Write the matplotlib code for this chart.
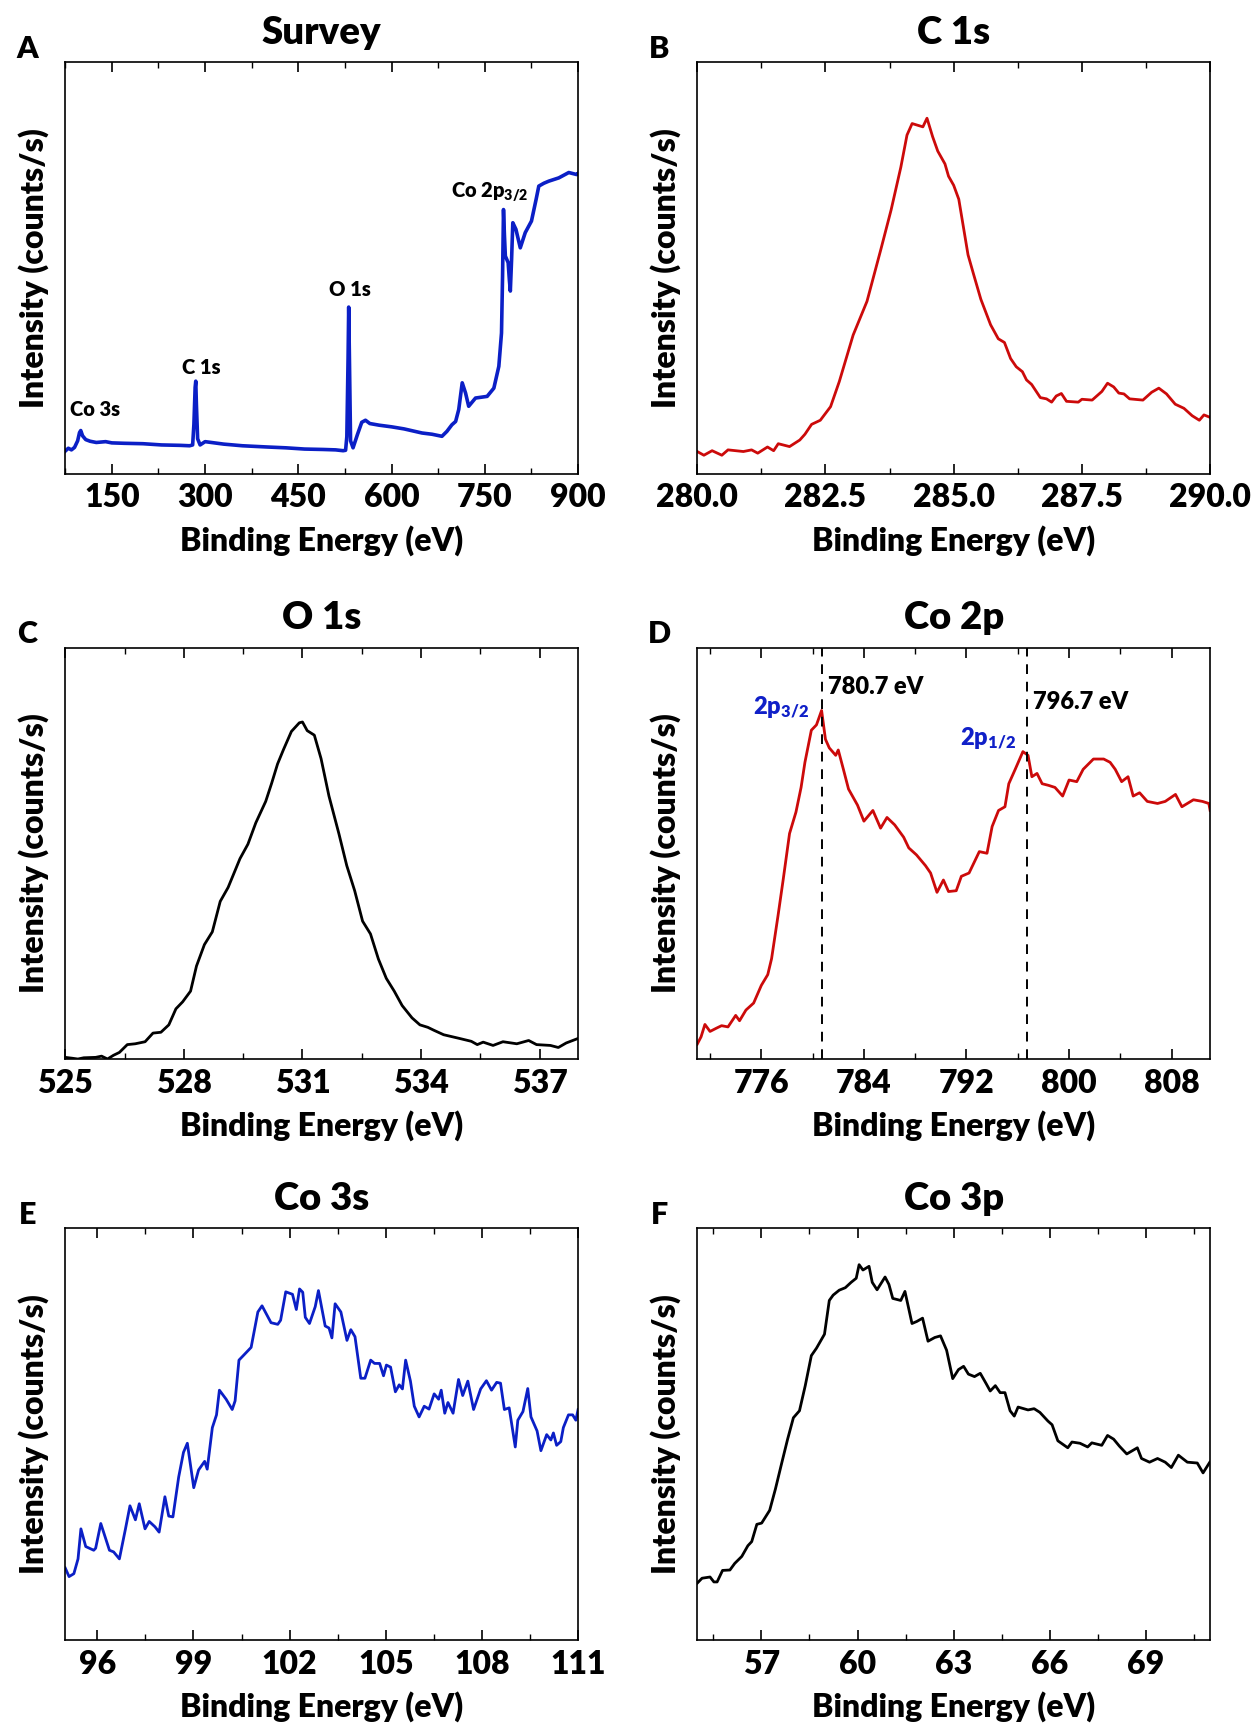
import matplotlib
matplotlib.use("Agg")
import matplotlib.pyplot as plt
from matplotlib.ticker import MultipleLocator, FormatStrFormatter

plt.rcParams['font.family'] = ['Lato', 'DejaVu Sans']
plt.rcParams['font.weight'] = 'heavy'
plt.rcParams['mathtext.default'] = 'regular'

BLUE = '#0b1fc6'
RED = '#cc0a0a'
W = 'heavy'

# Survey spectrum (intensity normalised to 0-100 of the axes height)
survey_x = [75, 80, 85, 90, 95, 98, 100, 103, 108, 115, 125, 140, 150, 170, 200, 230, 260, 275, 280, 282,
            284, 285, 286, 288, 292, 300, 310, 330, 360, 400, 430, 460, 490, 510, 522, 526, 528, 530,
            531, 532, 534, 538, 545, 552, 558, 565, 580, 600, 620, 649, 665, 681, 689, 697, 703, 708,
            713.6, 719, 724, 735, 753.7, 764.5, 772.5, 776.8, 778.5, 780, 781.5, 783, 787.5, 789.5, 791,
            793, 795, 800, 807, 815, 825, 832.5, 836.8, 845, 852.8, 869, 885, 898, 900]
survey_y = [5.5, 6.2, 5.8, 6.4, 8.0, 10.0, 10.5, 9.2, 8.3, 7.9, 7.6, 7.8, 7.5, 7.4, 7.3, 7.0, 6.9, 6.8, 7.0, 12.0,
            21.0, 22.5, 17.0, 8.5, 7.0, 7.8, 7.6, 7.2, 6.8, 6.5, 6.3, 6.0, 5.9, 5.8, 5.6, 5.7, 9.0, 28.0,
            40.5, 30.0, 8.0, 6.3, 9.5, 12.5, 13.0, 12.2, 11.8, 11.4, 10.9, 9.9, 9.6, 9.1, 10.3, 11.9, 12.7, 15.6,
            22.1, 19.6, 16.4, 18.4, 18.8, 20.8, 26.1, 34.2, 48.0, 64.2, 58.0, 52.9, 51.3, 47.0, 44.4,
            52.0, 61.0, 59.4, 54.9, 58.6, 61.4, 66.7, 69.9, 70.6, 71.1, 71.9, 73.2, 72.7, 73.0]

# C 1s
c1s_x = [280.0, 280.13, 280.29, 280.48, 280.6, 280.75, 280.9, 281.06, 281.18, 281.37, 281.49, 281.58, 281.8,
         282.0, 282.1, 282.23, 282.4, 282.6, 282.77, 283.04, 283.31, 283.58, 283.78, 283.97, 284.09, 284.19,
         284.4, 284.48, 284.59, 284.69, 284.83, 284.9, 285.0, 285.1, 285.28, 285.39, 285.53, 285.72, 285.87,
         285.99, 286.11, 286.22, 286.34, 286.42, 286.52, 286.69, 286.81, 286.91, 287.0, 287.1, 287.2, 287.43,
         287.5, 287.7, 287.89, 288.0, 288.12, 288.22, 288.32, 288.43, 288.69, 288.86, 289.0, 289.15, 289.32,
         289.49, 289.65, 289.79, 289.88, 290.0]
c1s_y = [5.4, 4.5, 5.6, 4.5, 5.8, 5.6, 5.4, 5.8, 5.0, 6.5, 5.6, 7.3, 6.6,
         8.2, 9.6, 12.0, 13.0, 16.3, 22.4, 33.7, 41.9, 54.5, 64.1, 74.5, 82.3, 85.1,
         84.3, 86.4, 81.9, 78.4, 75.3, 72.3, 70.1, 66.7, 53.2, 48.4, 42.4, 36.2, 32.8,
         31.9, 28.0, 26.0, 24.8, 22.8, 21.7, 18.5, 18.2, 17.4, 18.9, 19.5, 17.6, 17.4,
         18.1, 17.9, 20.0, 22.0, 21.1, 19.6, 19.4, 18.2, 17.9, 19.8, 20.8, 19.4, 16.9,
         15.9, 14.1, 13.0, 14.3, 13.7]

# O 1s
o1s_x = [525.0, 525.17, 525.32, 525.47, 525.77, 525.92, 526.07, 526.22, 526.37, 526.57, 526.77, 527.02, 527.22,
         527.42, 527.62, 527.8, 527.97, 528.17, 528.32, 528.52, 528.72, 528.92, 529.12, 529.42, 529.62, 529.82,
         530.07, 530.22, 530.37, 530.52, 530.72, 530.92, 531.0, 531.12, 531.3, 531.47, 531.67, 531.92, 532.12,
         532.32, 532.52, 532.72, 532.92, 533.12, 533.32, 533.52, 533.77, 533.97, 534.17, 534.32, 534.57, 534.97,
         535.27, 535.42, 535.57, 535.82, 536.07, 536.42, 536.72, 536.92, 537.27, 537.47, 537.67, 537.97]
o1s_y = [0.4, 0.2, 0.0, 0.3, 0.4, 0.7, 0.0, 0.9, 1.6, 3.5, 3.7, 4.2, 6.3,
         6.5, 8.3, 12.2, 13.9, 16.5, 22.6, 27.8, 30.9, 38.3, 41.7, 48.7, 52.2, 57.4,
         62.6, 67.0, 71.7, 75.2, 79.6, 81.7, 81.9, 79.8, 78.7, 73.0, 63.9, 54.8, 47.0,
         40.9, 33.5, 30.4, 24.3, 19.6, 16.5, 13.0, 10.0, 8.3, 7.7, 7.0, 5.9, 5.0,
         4.3, 3.5, 4.1, 3.3, 4.2, 3.7, 4.5, 3.5, 3.3, 2.8, 3.9, 5.0]

# Co 2p
co2p_x = [771.0, 771.3, 771.6, 772.0, 772.5, 772.9, 773.4, 774.0, 774.3, 774.8, 775.4, 776.0, 776.5, 776.8,
          777.3, 777.7, 778.2, 778.7, 779.1, 779.4, 779.9, 780.3, 780.7, 781.0, 781.3, 781.8, 782.0, 782.4,
          782.8, 783.5, 784.0, 784.7, 785.3, 785.8, 786.4, 787.1, 787.5, 788.1, 788.8, 789.2, 789.7, 790.2,
          790.6, 791.2, 791.6, 792.2, 792.6, 793.0, 793.6, 794.0, 794.5, 795.0, 795.3, 795.8, 796.4, 796.8,
          797.1, 797.5, 797.9, 798.4, 798.9, 799.5, 800.0, 800.6, 801.1, 801.9, 802.7, 803.2, 803.6, 804.1,
          804.6, 805.0, 805.5, 806.1, 806.9, 807.5, 808.3, 808.8, 809.7, 810.4, 810.9, 811.0]
co2p_y = [3.6, 5.4, 8.4, 6.7, 7.5, 8.1, 7.8, 10.6, 9.3, 11.9, 13.6, 17.9, 20.5, 24.4,
          34.8, 43.5, 54.8, 60.0, 66.0, 72.1, 79.9, 81.2, 84.7, 77.7, 75.6, 73.8, 75.1, 70.4,
          65.6, 61.7, 57.8, 60.4, 56.1, 58.7, 56.9, 53.9, 51.3, 49.6, 47.0, 45.2, 40.5, 43.5,
          40.7, 40.9, 44.4, 45.2, 47.8, 50.4, 50.0, 56.5, 60.4, 61.3, 66.9, 70.4, 74.7, 73.8,
          68.6, 69.4, 66.9, 66.5, 66.0, 63.9, 67.8, 67.4, 70.4, 72.9, 72.9, 72.1, 70.4, 67.4,
          68.6, 63.9, 64.7, 62.6, 62.1, 62.6, 64.3, 61.3, 63.0, 62.6, 62.1, 60.4]
co2p_peaks = [780.7, 796.7]

# Co 3s
co3s_x = [95.0, 95.12, 95.27, 95.4, 95.49, 95.64, 95.89, 95.95, 96.11, 96.38, 96.51, 96.69, 96.88, 97.02,
          97.19, 97.31, 97.49, 97.62, 97.8, 97.93, 98.11, 98.23, 98.36, 98.54, 98.69, 98.81, 99.01, 99.16,
          99.35, 99.43, 99.59, 99.72, 99.81, 100.02, 100.21, 100.3, 100.42, 100.58, 100.8, 101.01, 101.14,
          101.42, 101.63, 101.72, 101.88, 102.09, 102.21, 102.31, 102.41, 102.49, 102.62, 102.8, 102.9,
          103.11, 103.23, 103.32, 103.42, 103.6, 103.79, 103.91, 104.04, 104.22, 104.35, 104.53, 104.65,
          104.81, 104.93, 105.02, 105.15, 105.3, 105.42, 105.52, 105.62, 105.77, 105.89, 106.04, 106.2,
          106.35, 106.51, 106.65, 106.73, 106.84, 106.94, 107.1, 107.27, 107.4, 107.56, 107.74, 107.96,
          108.14, 108.3, 108.46, 108.58, 108.7, 108.85, 109.04, 109.12, 109.28, 109.43, 109.53, 109.72,
          109.84, 110.02, 110.15, 110.23, 110.33, 110.46, 110.54, 110.7, 110.83, 110.93, 111.0]
co3s_y = [17.5, 15.4, 16.1, 19.7, 27.0, 22.7, 21.8, 22.3, 28.3, 21.8, 21.4, 19.7, 27.0, 32.6,
          29.2, 33.1, 27.0, 28.8, 27.5, 26.2, 34.8, 30.1, 29.9, 39.6, 45.6, 47.8, 37.0, 41.3,
          43.4, 41.5, 51.6, 54.7, 60.7, 58.5, 56.0, 58.1, 68.0, 69.3, 71.1, 79.7, 81.2,
          77.1, 76.7, 77.7, 84.6, 84.0, 80.3, 85.3, 84.5, 78.4, 76.9, 81.0, 84.9,
          76.3, 75.8, 73.4, 81.7, 79.7, 72.8, 75.4, 73.7, 63.6, 63.6, 68.0, 67.2,
          67.2, 64.2, 66.8, 66.3, 60.3, 62.0, 61.0, 68.0, 62.9, 56.8, 54.2, 56.8,
          56.1, 59.8, 58.5, 60.7, 55.1, 57.7, 55.1, 63.3, 59.4, 62.9, 56.0, 61.0,
          63.0, 60.7, 62.6, 62.4, 56.0, 56.4, 46.9, 53.4, 55.5, 61.1, 54.2, 50.8,
          46.0, 49.9, 48.6, 50.3, 47.3, 48.2, 51.6, 54.7, 54.7, 53.4, 56.0]

# Co 3p
co3p_x = [55.0, 55.15, 55.4, 55.52, 55.62, 55.79, 56.02, 56.17, 56.39, 56.58, 56.7, 56.86, 57.01, 57.26,
          57.44, 57.63, 57.82, 58.0, 58.19, 58.37, 58.56, 58.72, 58.97, 59.12, 59.24, 59.43, 59.62, 59.8,
          59.96, 60.05, 60.17, 60.36, 60.46, 60.61, 60.86, 60.98, 61.1, 61.35, 61.48, 61.7, 61.85, 62.03,
          62.2, 62.41, 62.59, 62.78, 62.97, 63.15, 63.31, 63.46, 63.65, 63.83, 64.02, 64.14, 64.3, 64.45,
          64.6, 64.76, 64.89, 65.01, 65.32, 65.51, 65.69, 65.94, 66.07, 66.25, 66.56, 66.69, 66.94, 67.18,
          67.31, 67.62, 67.8, 67.99, 68.17, 68.4, 68.73, 68.86, 69.11, 69.36, 69.6, 69.79, 70.01, 70.29,
          70.6, 70.78, 70.99]
co3p_y = [13.8, 15.0, 15.3, 14.1, 14.1, 16.9, 17.0, 18.6, 20.3, 22.9, 23.9, 28.1, 28.4, 31.5,
          36.7, 42.8, 48.8, 54.0, 55.7, 61.8, 69.1, 70.9, 74.3, 82.5, 83.8, 85.0, 85.6, 86.9,
          87.9, 91.2, 89.9, 90.8, 86.9, 85.1, 88.2, 86.4, 83.0, 82.5, 84.7, 76.9, 77.4, 78.2,
          72.6, 73.5, 73.9, 70.4, 63.5, 65.7, 66.5, 64.6, 64.0, 64.8, 62.2, 60.5, 61.8, 60.1,
          60.1, 55.7, 54.4, 56.6, 55.9, 56.2, 55.3, 53.2, 52.3, 48.4, 46.7, 48.1, 47.8, 46.9,
          47.9, 47.3, 49.7, 48.8, 47.1, 45.2, 46.7, 44.1, 43.2, 44.1, 43.2, 41.9, 44.9, 43.2,
          43.0, 40.6, 43.2]

fig = plt.figure(figsize=(12.54, 17.29), dpi=100)

col_left = [0.052, 0.556]
row_bottom = [0.726, 0.3875, 0.0515]
w, h = 0.409, 0.238


def make_axes(col, row, title, letter, xlim, major, minor, fmt=None):
    ax = fig.add_axes([col_left[col], row_bottom[row], w, h])
    ax.set_xlim(xlim)
    ax.set_ylim(0, 100)
    ax.xaxis.set_major_locator(MultipleLocator(major))
    ax.xaxis.set_minor_locator(MultipleLocator(minor))
    if fmt:
        ax.xaxis.set_major_formatter(FormatStrFormatter(fmt))
    ax.set_yticks([])
    ax.tick_params(axis='x', which='both', direction='in', top=True, labelsize=23, pad=7)
    ax.tick_params(axis='x', which='major', length=7, width=1.2)
    ax.tick_params(axis='x', which='minor', length=4, width=1.0)
    for lab in ax.get_xticklabels():
        lab.set_fontweight(W)
    for s in ax.spines.values():
        s.set_linewidth(1.2)
    ax.set_xlabel('Binding Energy (eV)', fontsize=23, fontweight=W, labelpad=9)
    ax.set_ylabel('Intensity (counts/s)', fontsize=23, fontweight=W, labelpad=12)
    ax.set_title(title, fontsize=27.5, fontweight=W, pad=13)
    ax.text(-0.074, 0.998, letter, transform=ax.transAxes, fontsize=22, fontweight=W,
            ha='center', va='bottom')
    return ax


# A: survey
ax = make_axes(0, 0, 'Survey', 'A', (75, 900), 150, 75)
ax.plot(survey_x, survey_y, color=BLUE, lw=2.6)
ax.text(123, 15.5, 'Co 3s', fontsize=14.5, fontweight=W, ha='center', va='center')
ax.text(294, 25.8, 'C 1s', fontsize=14.5, fontweight=W, ha='center', va='center')
ax.text(533, 44.8, 'O 1s', fontsize=14.5, fontweight=W, ha='center', va='center')
ax.text(758, 68.4, 'Co 2p$_{3/2}$', fontsize=14.5, fontweight=W, ha='center', va='center')

# B: C 1s
ax = make_axes(1, 0, 'C 1s', 'B', (280, 290), 2.5, 1.25, '%.1f')
ax.plot(c1s_x, c1s_y, color=RED, lw=2.0)

# C: O 1s
ax = make_axes(0, 1, 'O 1s', 'C', (525, 537.97), 3, 1.5)
ax.plot(o1s_x, o1s_y, color='black', lw=2.0)

# D: Co 2p
ax = make_axes(1, 1, 'Co 2p', 'D', (771, 811), 8, 4)
ax.plot(co2p_x, co2p_y, color=RED, lw=2.0)
for p in co2p_peaks:
    ax.axvline(p, color='black', lw=1.4, ls=(0, (5, 4)))
ax.text(781.2, 90.3, '780.7 eV', fontsize=17, fontweight=W, ha='left', va='center')
ax.text(797.2, 86.8, '796.7 eV', fontsize=17, fontweight=W, ha='left', va='center')
ax.text(779.7, 85.5, '2p$_{3/2}$', fontsize=17, fontweight=W, color='#1020c8', ha='right', va='center')
ax.text(795.9, 78.0, '2p$_{1/2}$', fontsize=17, fontweight=W, color='#1020c8', ha='right', va='center')

# E: Co 3s
ax = make_axes(0, 2, 'Co 3s', 'E', (95, 111), 3, 1.5)
ax.plot(co3s_x, co3s_y, color=BLUE, lw=2.0)

# F: Co 3p
ax = make_axes(1, 2, 'Co 3p', 'F', (55, 71), 3, 1.5)
ax.plot(co3p_x, co3p_y, color='black', lw=2.0)

fig.savefig('out.png', dpi=100)
